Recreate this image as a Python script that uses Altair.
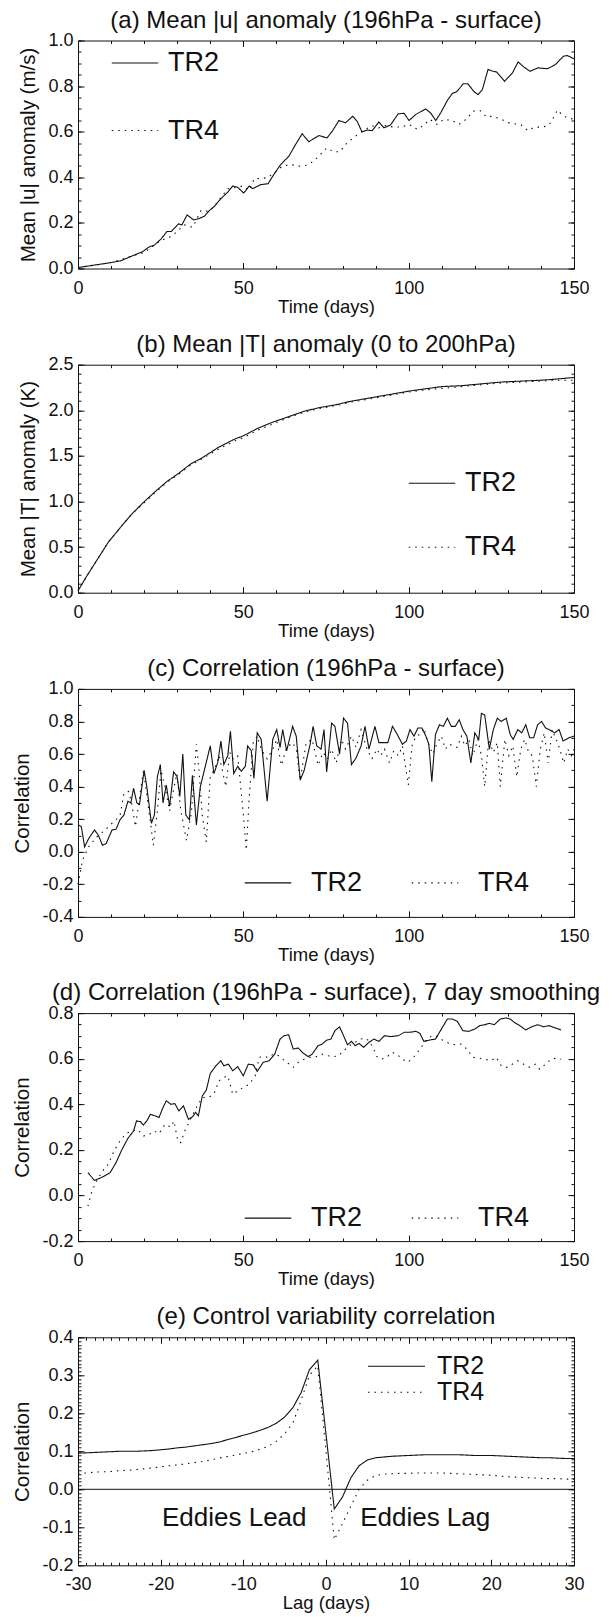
import altair as alt
import pandas as pd

FONT = "Liberation Sans"
INK = "#111111"

# ---------------- data ----------------
# (a) Mean |u| anomaly
a_tr2_day = [0, 5, 10, 13, 16, 19.6, 21.3, 23.1, 25.1, 26.9, 28.2, 30.4, 31.4, 33, 35, 36.4, 38.2, 39.7, 41.2,
             43.2, 45.3, 46.8, 48.3, 50.1, 51.8, 52.8, 55.3, 57.5, 59.2, 61.3, 63.8, 65.8, 67.8, 69.8, 72.8,
             75.3, 76.9, 78.9, 80.9, 83.1, 84.4, 85.9, 87.4, 89, 91, 92.5, 94.5, 96.8, 98.6, 100.1, 102.1,
             105.1, 106.6, 108.2, 109.7, 111.7, 113.2, 114.5, 116.5, 117.9, 119.8, 121, 122.3, 124, 125.3,
             126.6, 129, 131.4, 133.1, 134.9, 136.7, 139.1, 142, 144.4, 146.8, 148, 150]
a_tr2_val = [0.004, 0.015, 0.026, 0.034, 0.053, 0.074, 0.093, 0.103, 0.129, 0.162, 0.162, 0.196, 0.191, 0.235,
             0.213, 0.218, 0.229, 0.254, 0.272, 0.306, 0.335, 0.362, 0.356, 0.331, 0.362, 0.35, 0.368, 0.372,
             0.412, 0.456, 0.493, 0.544, 0.591, 0.556, 0.583, 0.573, 0.602, 0.649, 0.639, 0.668, 0.646, 0.599,
             0.607, 0.605, 0.643, 0.617, 0.629, 0.678, 0.681, 0.649, 0.675, 0.70, 0.683, 0.649, 0.683, 0.737,
             0.768, 0.775, 0.81, 0.81, 0.775, 0.763, 0.785, 0.873, 0.866, 0.862, 0.821, 0.858, 0.906, 0.883,
             0.865, 0.88, 0.876, 0.895, 0.931, 0.934, 0.92]
a_tr4_day = [0, 10, 16, 20, 25, 28.2, 29.7, 32.2, 34.7, 37.2, 39.7, 42.2, 43.7, 45.3, 48.3, 49.8, 51.8, 53.3,
             55.3, 57.3, 59.3, 61.8, 64.3, 66.8, 69.3, 71.3, 73.3, 75.3, 77.3, 79.2, 80.9, 82.9, 84.9, 86.9,
             89, 91, 93, 95.5, 98, 100.1, 102.6, 104.6, 106.4, 108.6, 110.6, 113.2, 115.2, 117.7, 119.5,
             121.6, 123.6, 125.3, 128, 130, 132, 134, 136, 138, 140, 142, 143, 145, 146, 148, 150]
a_tr4_val = [0.004, 0.026, 0.053, 0.07, 0.122, 0.141, 0.159, 0.191, 0.181, 0.254, 0.25, 0.291, 0.32, 0.35,
             0.357, 0.362, 0.343, 0.394, 0.394, 0.399, 0.418, 0.449, 0.456, 0.449, 0.453, 0.471, 0.50, 0.529,
             0.512, 0.512, 0.544, 0.569, 0.591, 0.61, 0.626, 0.617, 0.627, 0.62, 0.621, 0.632, 0.61, 0.629,
             0.654, 0.632, 0.654, 0.649, 0.632, 0.658, 0.69, 0.693, 0.664, 0.668, 0.655, 0.64, 0.635, 0.63,
             0.605, 0.62, 0.62, 0.625, 0.64, 0.695, 0.68, 0.66, 0.655]

# (b) Mean |T| anomaly
b_day = [0, 2.6, 5.6, 9.1, 12.7, 16.2, 19.8, 23.4, 26.9, 30.5, 34, 37.6, 42.3, 47.1, 50, 54.2, 58.9, 63.7,
         68.4, 73.1, 77.9, 82.6, 87.4, 92.1, 96.9, 100, 104, 110, 116, 122, 128, 134, 140, 144, 150]
b_tr2_val = [0.02, 0.18, 0.35, 0.55, 0.71, 0.86, 0.99, 1.11, 1.22, 1.31, 1.41, 1.48, 1.59, 1.68, 1.72, 1.80,
             1.87, 1.93, 1.99, 2.03, 2.06, 2.10, 2.13, 2.16, 2.19, 2.21, 2.23, 2.26, 2.27, 2.29, 2.31, 2.32,
             2.33, 2.34, 2.36]
b_tr4_val = [0.02, 0.18, 0.35, 0.55, 0.71, 0.86, 0.98, 1.10, 1.21, 1.30, 1.40, 1.47, 1.57, 1.66, 1.70, 1.78,
             1.85, 1.92, 1.98, 2.02, 2.05, 2.09, 2.12, 2.15, 2.18, 2.20, 2.22, 2.24, 2.26, 2.28, 2.30, 2.31,
             2.32, 2.33, 2.33]

# (c) Correlation
c_tr2_day = [0, 1, 2, 3.2, 5, 6.2, 7.4, 8.5, 10.3, 11.5, 12.7, 13.9, 15.1, 16, 16.8, 17.8, 18.6, 20, 20.8,
             22.2, 23.1, 24, 24.9, 25.7, 26.7, 27.7, 28.9, 30, 30.8, 31.7, 32.6, 33.7, 34.6, 35.8, 37, 38.2,
             40, 41.1, 42.3, 43.2, 44.1, 45.3, 46.1, 47.1, 48.3, 49.4, 50.6, 51.3, 52.4, 53.2, 54.2, 55.4,
             57.2, 58.9, 60.1, 61.1, 61.9, 63.1, 64.9, 66, 67.2, 68.4, 70.2, 71.1, 72.2, 73.5, 74.4, 75.2,
             76.7, 77.7, 79.1, 80.3, 81.5, 82.7, 84.1, 85.6, 86.8, 88, 89.8, 91, 92.1, 93.7, 95.1, 96.3, 98.1,
             99.3, 100.4, 101.6, 102.8, 104, 105.2, 106.1, 107, 108.1, 109.3, 110.5, 111.7, 112.9, 114.1,
             115.3, 116.4, 117.6, 118.8, 120, 121.2, 122, 123, 124.4, 125.6, 126.8, 128, 129.5, 130.7, 131.6,
             133, 134.2, 135.4, 136.6, 137.8, 139, 140.2, 141.4, 142.5, 144.1, 145.5, 146.7, 148.5, 150]
c_tr2_val = [0.165, 0.155, 0.03, 0.08, 0.134, 0.10, 0.04, 0.05, 0.134, 0.138, 0.196, 0.226, 0.31, 0.30, 0.39,
             0.30, 0.29, 0.50, 0.40, 0.175, 0.226, 0.46, 0.535, 0.30, 0.41, 0.28, 0.49, 0.46, 0.34, 0.60,
             0.226, 0.196, 0.47, 0.165, 0.40, 0.50, 0.65, 0.48, 0.55, 0.68, 0.535, 0.59, 0.74, 0.48, 0.525,
             0.494, 0.525, 0.65, 0.62, 0.45, 0.73, 0.69, 0.31, 0.69, 0.75, 0.64, 0.75, 0.62, 0.77, 0.71, 0.44,
             0.50, 0.66, 0.77, 0.65, 0.63, 0.75, 0.49, 0.79, 0.77, 0.60, 0.82, 0.79, 0.535, 0.576, 0.65, 0.77,
             0.63, 0.77, 0.67, 0.67, 0.67, 0.77, 0.73, 0.66, 0.68, 0.75, 0.71, 0.76, 0.76, 0.71, 0.66, 0.43,
             0.72, 0.78, 0.77, 0.82, 0.77, 0.77, 0.81, 0.75, 0.71, 0.545, 0.73, 0.69, 0.85, 0.84, 0.63, 0.75,
             0.82, 0.80, 0.82, 0.72, 0.69, 0.75, 0.73, 0.78, 0.70, 0.70, 0.78, 0.80, 0.76, 0.75, 0.73, 0.75,
             0.68, 0.70, 0.71]
c_tr4_day = [0, 1.4, 3.2, 5.6, 8, 10.3, 12.7, 13.9, 15.3, 16.2, 17.4, 18.6, 19.8, 21, 22.8, 24, 25.1, 26.3,
             27.7, 28.7, 29.9, 31.1, 32.8, 34.3, 35.8, 36.6, 37.6, 38.8, 40, 41.1, 42.7, 44.7, 45.9, 46.8,
             48.3, 50, 50.9, 51.8, 53, 54.2, 55.4, 57.2, 58.9, 60.1, 61.5, 63.1, 64.9, 66, 67.2, 69, 70.8,
             72.6, 74.1, 75.5, 76.7, 78.1, 79.7, 80.9, 82.7, 84.1, 85.6, 87.4, 88.9, 90.4, 91.5, 92.7, 94.2,
             95.5, 96.9, 98.1, 99.9, 101, 102.2, 103.4, 104.6, 105.8, 107.3, 108.7, 109.9, 111.1, 112.3,
             113.5, 114.7, 115.9, 117, 118.2, 119.4, 120.9, 122, 123, 124.2, 125.6, 126.8, 127.7, 129.1,
             130.3, 131.5, 132.7, 133.9, 135.1, 136.3, 137.4, 138.6, 139.8, 141, 142.2, 143.4, 144.6, 145.7,
             146.9, 148.1, 149.3, 150]
c_tr4_val = [-0.2, -0.05, 0.03, 0.09, 0.13, 0.175, 0.22, 0.36, 0.37, 0.30, 0.155, 0.33, 0.50, 0.32, 0.04, 0.25,
             0.50, 0.40, 0.25, 0.36, 0.48, 0.25, 0.07, 0.24, 0.66, 0.50, 0.22, 0.06, 0.46, 0.50, 0.59, 0.40,
             0.61, 0.57, 0.59, 0.23, 0.01, 0.34, 0.67, 0.71, 0.63, 0.57, 0.63, 0.69, 0.53, 0.64, 0.67, 0.63,
             0.44, 0.67, 0.69, 0.53, 0.61, 0.57, 0.63, 0.545, 0.69, 0.63, 0.71, 0.64, 0.75, 0.63, 0.57, 0.63,
             0.59, 0.63, 0.545, 0.62, 0.59, 0.65, 0.41, 0.65, 0.71, 0.72, 0.76, 0.67, 0.60, 0.67, 0.71, 0.63,
             0.66, 0.65, 0.64, 0.71, 0.65, 0.69, 0.59, 0.69, 0.59, 0.40, 0.69, 0.61, 0.67, 0.40, 0.69, 0.59,
             0.65, 0.46, 0.63, 0.69, 0.61, 0.59, 0.40, 0.63, 0.73, 0.545, 0.75, 0.69, 0.63, 0.545, 0.63, 0.59,
             0.63]

# (d) Correlation, 7 day smoothing
d_tr2_day = [3, 5, 7.4, 9.7, 11.5, 13.3, 15.1, 16.8, 17.7, 18.9, 19.8, 20.8, 21.9, 23.4, 24.5, 25.7, 26.7,
             28.1, 29.3, 30.5, 31.9, 33.4, 34.6, 35.6, 36.4, 37.6, 38.8, 40, 41.7, 43.2, 44.1, 45.5, 46.8,
             48.3, 50, 51.5, 53, 54.2, 56, 57.8, 59.5, 61.1, 62.3, 63.7, 65.1, 66.6, 67.8, 69.6, 70.8, 72.6,
             73.8, 75.3, 76.5, 77.7, 79.1, 80.3, 81.5, 82.7, 83.8, 85, 86.4, 88, 89.5, 91, 92.7, 94.5, 96.9,
             98.7, 100.4, 102.2, 103.4, 104.6, 106.4, 108.1, 109.9, 111.7, 113.2, 114.7, 116.4, 118.2, 120,
             121.5, 123, 124.4, 125.9, 127.7, 129.5, 130.7, 131.9, 133.6, 135.4, 137.2, 139, 140.8, 142.5,
             144.3, 146.1]
d_tr2_val = [0.10, 0.066, 0.081, 0.10, 0.144, 0.202, 0.251, 0.283, 0.327, 0.324, 0.309, 0.327, 0.356, 0.349,
             0.342, 0.386, 0.415, 0.40, 0.403, 0.371, 0.393, 0.334, 0.345, 0.364, 0.349, 0.437, 0.462, 0.535,
             0.569, 0.591, 0.569, 0.576, 0.547, 0.565, 0.525, 0.576, 0.573, 0.544, 0.584, 0.591, 0.62, 0.686,
             0.701, 0.705, 0.642, 0.647, 0.628, 0.609, 0.62, 0.657, 0.664, 0.682, 0.686, 0.723, 0.74, 0.701,
             0.661, 0.676, 0.657, 0.667, 0.65, 0.672, 0.686, 0.676, 0.701, 0.697, 0.701, 0.716, 0.716, 0.72,
             0.711, 0.676, 0.682, 0.686, 0.73, 0.774, 0.774, 0.764, 0.723, 0.72, 0.73, 0.745, 0.749, 0.755,
             0.749, 0.774, 0.779, 0.774, 0.76, 0.745, 0.726, 0.74, 0.749, 0.74, 0.745, 0.735, 0.726]
d_tr4_day = [3, 4.2, 5.6, 7.4, 9.1, 10.9, 12.7, 14.5, 16.2, 18, 19.8, 21.6, 23.1, 24.5, 26.3, 28.1, 29, 30.2,
             31.1, 32.3, 34, 35.8, 37.6, 39.4, 41.1, 42.6, 44.1, 45.3, 46.8, 48.3, 50, 51.8, 53.6, 54.8, 56,
             57.8, 59, 60.7, 62.5, 63.9, 65.1, 66.6, 68.4, 70.2, 72, 73.8, 75.5, 77.3, 78.9, 80.3, 82.1, 83.8,
             85.3, 86.8, 88, 89.2, 90.4, 91.9, 93.3, 95.1, 96.6, 98.1, 99.8, 101.6, 103.4, 105.2, 107, 108.7,
             110.5, 112.3, 114.1, 115.9, 117.6, 119.4, 121.2, 123, 124.8, 126.5, 128, 129.7, 131.3, 133,
             134.8, 136.6, 138.4, 139.6, 141.4, 143.1, 144.9, 146.1]
d_tr4_val = [-0.047, 0.019, 0.063, 0.107, 0.136, 0.195, 0.239, 0.271, 0.283, 0.29, 0.261, 0.268, 0.283, 0.271,
             0.312, 0.30, 0.327, 0.239, 0.232, 0.283, 0.334, 0.386, 0.43, 0.43, 0.444, 0.503, 0.518, 0.525,
             0.444, 0.459, 0.474, 0.488, 0.525, 0.606, 0.609, 0.606, 0.62, 0.613, 0.591, 0.576, 0.562, 0.584,
             0.598, 0.606, 0.609, 0.62, 0.613, 0.609, 0.613, 0.635, 0.657, 0.672, 0.686, 0.69, 0.679, 0.65,
             0.609, 0.598, 0.606, 0.628, 0.617, 0.598, 0.584, 0.609, 0.642, 0.679, 0.701, 0.697, 0.679, 0.667,
             0.661, 0.664, 0.642, 0.606, 0.603, 0.598, 0.591, 0.606, 0.569, 0.562, 0.576, 0.591, 0.576, 0.562,
             0.576, 0.554, 0.576, 0.598, 0.603, 0.598]

# (e) Control variability correlation (lag in days)
e_lag = [-30, -29, -28, -27, -26, -25, -24, -23, -22, -21, -20, -19, -18, -17, -16, -15, -14, -13, -12, -11,
         -10, -9, -8, -7, -6, -5, -4, -3, -2, -1, 0, 1, 2, 3, 4, 5, 6, 7, 8, 9, 10, 11, 12, 13, 14, 15, 16,
         17, 18, 19, 20, 21, 22, 23, 24, 25, 26, 27, 28, 29, 30]
e_tr2_val = [0.095, 0.096, 0.097, 0.098, 0.099, 0.100, 0.100, 0.100, 0.101, 0.102, 0.104, 0.106, 0.109, 0.111,
             0.114, 0.117, 0.120, 0.124, 0.130, 0.136, 0.142, 0.148, 0.155, 0.163, 0.174, 0.190, 0.215, 0.255,
             0.315, 0.340, 0.145, -0.052, -0.020, 0.030, 0.062, 0.077, 0.083, 0.085, 0.087, 0.088, 0.089,
             0.090, 0.091, 0.091, 0.091, 0.091, 0.091, 0.090, 0.089, 0.089, 0.089, 0.088, 0.087, 0.086, 0.085,
             0.084, 0.083, 0.083, 0.082, 0.081, 0.081]
e_tr4_val = [0.042, 0.043, 0.045, 0.046, 0.047, 0.049, 0.050, 0.052, 0.054, 0.056, 0.059, 0.062, 0.064, 0.067,
             0.070, 0.073, 0.077, 0.082, 0.086, 0.090, 0.094, 0.099, 0.105, 0.113, 0.126, 0.146, 0.175, 0.235,
             0.300, 0.325, 0.100, -0.133, -0.090, -0.045, 0.000, 0.024, 0.036, 0.040, 0.041, 0.042, 0.042,
             0.043, 0.043, 0.043, 0.043, 0.042, 0.041, 0.040, 0.039, 0.038, 0.037, 0.035, 0.033, 0.032, 0.031,
             0.030, 0.029, 0.028, 0.028, 0.027, 0.026]
e_zero = [0.0]
e_note_label = ["Eddies Lead", "Eddies Lag"]
e_note_lag = [-11.1, 12.0]
e_note_val = [-0.076, -0.076]

SERIES = ["TR2", "TR4"]

# tick values
x_major_days = [0, 50, 100, 150]
x_major_lag = [-30, -20, -10, 0, 10, 20, 30]
y_major_a = [0.0, 0.2, 0.4, 0.6, 0.8, 1.0]
y_major_b = [0.0, 0.5, 1.0, 1.5, 2.0, 2.5]
y_major_c = [-0.4, -0.2, 0.0, 0.2, 0.4, 0.6, 0.8, 1.0]
y_major_d = [-0.2, 0.0, 0.2, 0.4, 0.6, 0.8]
y_major_e = [-0.2, -0.1, 0.0, 0.1, 0.2, 0.3, 0.4]


def steps(lo, hi, step):
    n = int(round((hi - lo) / step))
    return [round(lo + i * step, 4) for i in range(n + 1)]


def long_df(x2, v2, x4, v4):
    return pd.DataFrame({
        "x": list(x2) + list(x4),
        "v": list(v2) + list(v4),
        "series": [SERIES[0]] * len(x2) + [SERIES[1]] * len(x4),
    })


W, H = 496, 228
MAJ, MINR = 6, 3
DASH = alt.Scale(domain=SERIES, range=[[1, 0], [1.5, 5]])


def axis(orient, values, size, labels=False, title=None, fmt="d", title_size=18, title_pad=2):
    kw = dict(orient=orient, values=values, tickSize=size, offset=-size, domain=False, grid=False,
              tickColor=INK, tickWidth=1, labels=labels, minExtent=0)
    if labels:
        kw.update(labelFont=FONT, labelFontSize=18, labelColor=INK, labelFlush=False, labelOverlap=False,
                  labelPadding=(10.5 if orient == "bottom" else 5),
                  labelExpr="(datum.value < 0 ? '-' : '') + format(abs(datum.value), '%s')" % fmt)
    else:
        kw.update(maxExtent=size)
    if title is not None:
        kw.update(title=title, titleFont=FONT, titleFontSize=title_size, titleFontWeight="normal",
                  titleColor=INK, titlePadding=title_pad)
    else:
        kw["title"] = None
    return alt.Axis(**kw)


def panel(df, title, xdom, ydom, xmaj, xminor, ymaj, yminor, xtitle, ytitle, yfmt, xfmt, legend, extra=()):
    xs = alt.Scale(domain=xdom, nice=False, zero=False)
    ys = alt.Scale(domain=ydom, nice=False, zero=False)
    lines = alt.Chart(df).mark_line(color=INK, strokeWidth=1.1).encode(
        x=alt.X("x:Q", scale=xs, axis=axis("bottom", xmaj, MAJ, True, xtitle, xfmt, 18.5, 0)),
        y=alt.Y("v:Q", scale=ys, axis=axis("left", ymaj, MAJ, True, ytitle, yfmt, 20.5, 9)),
        strokeDash=alt.StrokeDash("series:N", scale=DASH, legend=legend),
    )
    ghost = df.iloc[:2]
    top = alt.Chart(ghost).mark_point(opacity=0).encode(
        x=alt.X("x:Q", scale=xs, axis=axis("top", xmaj, MAJ)),
        y=alt.Y("v:Q", scale=ys, axis=axis("right", ymaj, MAJ)),
    )
    minor_lb = alt.Chart(ghost).mark_point(opacity=0).encode(
        x=alt.X("x:Q", scale=xs, axis=axis("bottom", xminor, MINR)),
        y=alt.Y("v:Q", scale=ys, axis=axis("left", yminor, MINR)),
    )
    minor_tr = alt.Chart(ghost).mark_point(opacity=0).encode(
        x=alt.X("x:Q", scale=xs, axis=axis("top", xminor, MINR)),
        y=alt.Y("v:Q", scale=ys, axis=axis("right", yminor, MINR)),
    )
    layers = [lines, top, minor_lb, minor_tr] + [f(xs, ys) for f in extra]
    return alt.layer(*layers).resolve_axis(x="independent", y="independent").properties(
        width=W, height=H,
        title=alt.TitleParams(text=title, font=FONT, fontSize=24, fontWeight="normal", color=INK,
                              anchor="middle", frame="group", baseline="bottom", offset=-25),
    )


def legend(x, y, direction="vertical", row_pad=0, clip=28, sym=46.5, lab_off=9, font=27, col_pad=0):
    kw = dict(orient="none", legendX=x, legendY=y, direction=direction, title=None, symbolType="stroke",
              symbolSize=sym * sym, symbolStrokeWidth=1.1, symbolStrokeColor=INK, labelFont=FONT,
              labelFontSize=font, labelColor=INK, labelOffset=lab_off, clipHeight=clip, padding=0,
              rowPadding=row_pad)
    if direction == "horizontal":
        kw.update(columns=2, columnPadding=col_pad)
    return alt.Legend(**kw)


def zero_rule(xs, ys):
    return alt.Chart(pd.DataFrame({"y": e_zero})).mark_rule(color=INK, strokeWidth=1).encode(
        y=alt.Y("y:Q", scale=ys, axis=None))


def notes(xs, ys):
    return alt.Chart(pd.DataFrame({"x": e_note_lag, "y": e_note_val, "t": e_note_label})).mark_text(
        font=FONT, fontSize=26, color=INK, baseline="middle", align="center").encode(
        x=alt.X("x:Q", scale=xs, axis=None), y=alt.Y("y:Q", scale=ys, axis=None), text="t:N")


pa = panel(long_df(a_tr2_day, a_tr2_val, a_tr4_day, a_tr4_val),
           "(a) Mean |u| anomaly (196hPa - surface)", [0, 150], [0, 1.0],
           x_major_days, steps(0, 150, 10), y_major_a, steps(0, 1.0, 0.05),
           "Time (days)", "Mean |u| anomaly (m/s)", ".1f", "d",
           legend(33, 8.5, row_pad=39.5, clip=28))
pb = panel(long_df(b_day, b_tr2_val, b_day, b_tr4_val),
           "(b) Mean |T| anomaly (0 to 200hPa)", [0, 150], [0, 2.5],
           x_major_days, steps(0, 150, 10), y_major_b, steps(0, 2.5, 0.1),
           "Time (days)", "Mean |T| anomaly (K)", ".1f", "d",
           legend(330, 104.5, row_pad=36, clip=28))
pc = panel(long_df(c_tr2_day, c_tr2_val, c_tr4_day, c_tr4_val),
           "(c) Correlation (196hPa - surface)", [0, 150], [-0.4, 1.0],
           x_major_days, steps(0, 150, 10), y_major_c, steps(-0.4, 1.0, 0.1),
           "Time (days)", "Correlation", ".1f", "d",
           legend(166, 180, direction="horizontal", clip=28, lab_off=19, col_pad=48))
pd_ = panel(long_df(d_tr2_day, d_tr2_val, d_tr4_day, d_tr4_val),
            "(d) Correlation (196hPa - surface), 7 day smoothing", [0, 150], [-0.2, 0.8],
            x_major_days, steps(0, 150, 10), y_major_d, steps(-0.2, 0.8, 0.05),
            "Time (days)", "Correlation", ".1f", "d",
            legend(166, 191, direction="horizontal", clip=28, lab_off=19, col_pad=48))
pe = panel(long_df(e_lag, e_tr2_val, e_lag, e_tr4_val),
           "(e) Control variability correlation", [-30, 30], [-0.2, 0.4],
           x_major_lag, steps(-30, 30, 1), y_major_e, steps(-0.2, 0.4, 0.01),
           "Lag (days)", "Correlation", ".1f", "d",
           legend(289, 16, row_pad=0, clip=26, sym=57, lab_off=11, font=25),
           extra=(zero_rule, notes))

chart = alt.vconcat(pa, pb, pc, pd_, pe, spacing=15.2).resolve_scale(
    strokeDash="independent").resolve_legend(strokeDash="independent").properties(
    padding={"left": 12, "top": 7.5, "right": 0, "bottom": 0}, background="white"
).configure_view(stroke=INK, strokeWidth=1)

chart.save("out.html", embed_options={"renderer": "svg", "actions": False})
